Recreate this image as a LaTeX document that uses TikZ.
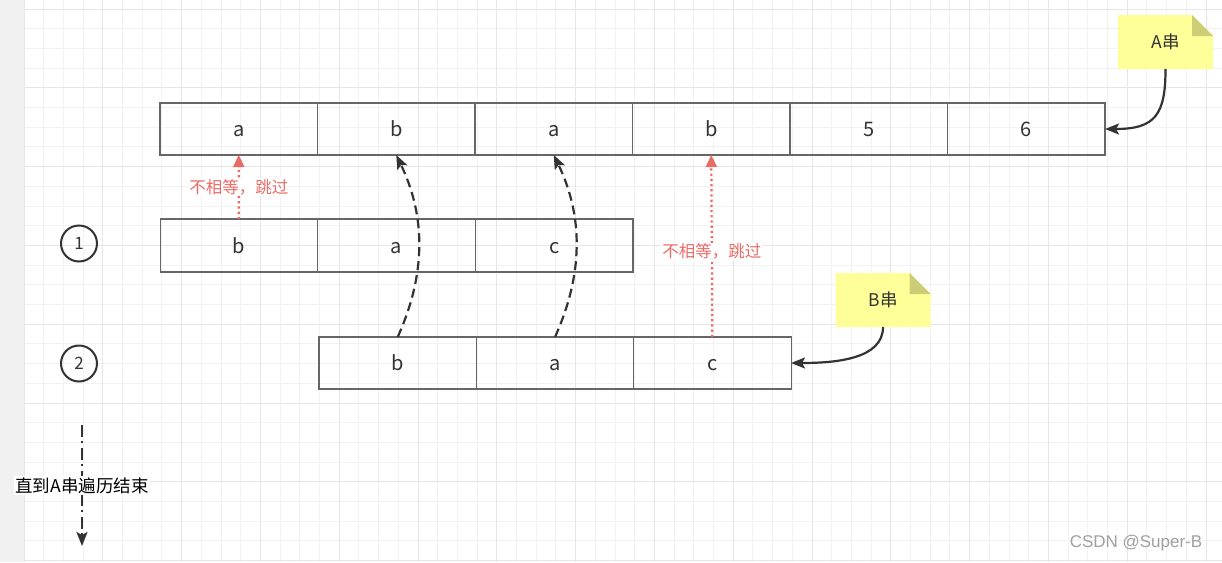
\documentclass[tikz,border=0pt]{standalone}
\usepackage{fontspec}
\setmainfont{Noto Sans CJK SC}
\newfontfamily\wmfont{Liberation Sans}
\usetikzlibrary{arrows.meta,calc}
\definecolor{gridminor}{HTML}{F2F2F2}
\definecolor{gridmajor}{HTML}{E6E6E6}
\definecolor{bandgray}{HTML}{F1F1F1}
\definecolor{cellborder}{HTML}{666666}
\definecolor{txt}{HTML}{333333}
\definecolor{redc}{HTML}{EA6B66}
\definecolor{notefill}{HTML}{FFFF99}
\definecolor{notefold}{HTML}{CDCD75}
\definecolor{wmgray}{HTML}{A0A0A0}
\tikzset{
  cell/.style={draw=cellborder, line width=1.1pt, minimum width=157.5pt, minimum height=52pt,
    inner sep=0pt, outer sep=0pt, text=txt, font=\fontsize{20}{20}\selectfont,
    text height=15pt, text depth=0pt},
  numcirc/.style={circle, draw=txt, line width=2pt, minimum size=36pt, inner sep=0pt,
    text=txt, font=\fontsize{17}{17}\selectfont},
  notetext/.style={minimum width=95pt, minimum height=54pt, inner sep=0pt, outer sep=0pt,
    text=txt, font=\fontsize{17.5}{17.5}\selectfont},
  redarrow/.style={draw=redc, line width=2.2pt, dash pattern=on 2.2pt off 3pt, -{Triangle[length=12pt,width=11pt]}},
  redlabel/.style={fill=white, inner sep=1pt, text=redc, font=\fontsize{16.5}{16.5}\selectfont},
  dasharrow/.style={draw=txt, line width=2.2pt, dash pattern=on 9pt off 5pt,
    -{Stealth[length=14pt,width=11pt,inset=3pt]}},
  notearrow/.style={draw=txt, line width=2.2pt, -{Stealth[length=14pt,width=11pt,inset=3pt]}},
  ddarrow/.style={draw=txt, line width=2.2pt, dash pattern=on 12pt off 4pt on 2pt off 5pt,
    -{Stealth[length=14pt,width=11pt,inset=3pt]}},
  blacklabel/.style={fill=white, inner sep=1pt, text=black, font=\fontsize{17.5}{17.5}\selectfont},
}
\newcommand{\mynote}[3]{%
  \fill[notefill] ($(#2)+(-47.5,-27)$) -- ($(#2)+(26.5,-27)$) -- ($(#2)+(47.5,-6)$)
     -- ($(#2)+(47.5,27)$) -- ($(#2)+(-47.5,27)$) -- cycle;
  \fill[notefold] ($(#2)+(26.5,-27)$) -- ($(#2)+(26.5,-6)$) -- ($(#2)+(47.5,-6)$) -- cycle;
  \node[notetext] (#1) at (#2) {#3};
}
\begin{document}
\begin{tikzpicture}[x=1pt,y=-1pt]
\useasboundingbox (0,0) rectangle (1222,562);
\fill[white] (0,0) rectangle (1222,562);
\fill[bandgray] (0,0) rectangle (24,562);
% grid
\foreach \i in {0,...,60} { \draw[gridminor, line width=1pt] ({24+19.7*\i},0) -- ({24+19.7*\i},562); }
\foreach \j in {0,...,28} { \draw[gridminor, line width=1pt] (24,{9+19.7*\j}) -- (1222,{9+19.7*\j}); }
\foreach \i in {0,4,...,60} { \draw[gridmajor, line width=1pt] ({24+19.7*\i},0) -- ({24+19.7*\i},562); }
\foreach \j in {0,4,...,28} { \draw[gridmajor, line width=1pt] (24,{9+19.7*\j}) -- (1222,{9+19.7*\j}); }

% row A
\foreach \t [count=\k] in {a,b,a,b,5,6} {
  \node[cell] (rA\k) at ({238.75+157.5*(\k-1)},129) {\t};
}
% row 1
\foreach \t [count=\k] in {b,a,c} {
  \node[cell, minimum height=53pt] (rB\k) at ({238.8+157.7*(\k-1)},245.5) {\t};
}
% row 2
\foreach \t [count=\k] in {b,a,c} {
  \node[cell] (rC\k) at ({397.7+157.3*(\k-1)},363) {\t};
}
% circles
\node[numcirc] (c1) at (79,243.5) {1};
\node[numcirc] (c2) at (79,363.5) {2};

% notes
\coordinate (Apos) at (1165.5,42);
\mynote{Anote}{Apos}{A串}
\coordinate (Bpos) at (883,300);
\mynote{Bnote}{Bpos}{B串}

% red dotted arrows
\draw[redarrow] (rB1.north) -- node[redlabel, pos=0.5] {不相等，跳过} (rA1.south);
\draw[redarrow] (rC3.north) -- node[redlabel, pos=0.47] {不相等，跳过} (rA4.south);

% dashed curves
\draw[dasharrow] (rC1.north) .. controls +(28,-62) and +(30,62) .. (rA2.south);
\draw[dasharrow] (rC2.north) .. controls +(28,-62) and +(30,62) .. (rA3.south);

% note arrows
\draw[notearrow] (Anote.south) .. controls +(0,46) and +(50,0) .. (rA6.east);
\draw[notearrow] (Bnote.south) .. controls +(0,32) and +(45,0) .. (rC3.east);

% dash-dot arrow
\coordinate (ddS) at (82,425);
\coordinate (ddE) at (82,546);
\draw[ddarrow] (ddS) -- node[blacklabel] {直到A串遍历结束} (ddE);

% watermark
\node[text=wmgray, font=\wmfont\fontsize{17}{17}\selectfont] (wm) at (1136,543) {CSDN @Super-B};
\end{tikzpicture}
\end{document}
